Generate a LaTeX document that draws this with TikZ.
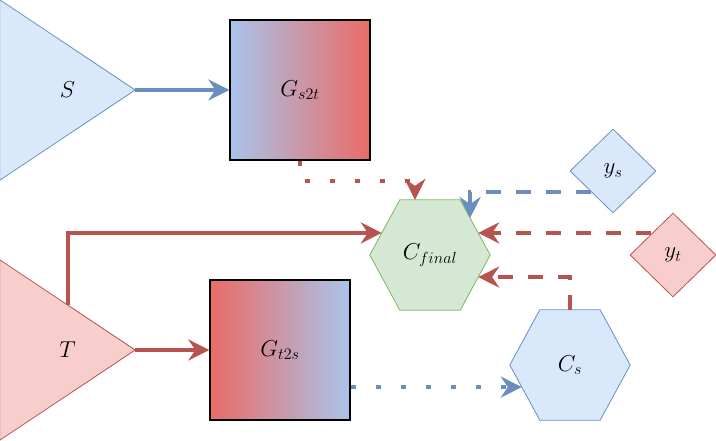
\documentclass[tikz,border=0pt]{standalone}
\usepackage{fix-cm}
\usepackage{tikz}
\usetikzlibrary{arrows.meta}
\usetikzlibrary{shapes}
\usetikzlibrary{calc}
\usetikzlibrary{backgrounds}
\definecolor{bluefill}{HTML}{DAE8FC}
\definecolor{blueline}{HTML}{6C8EBF}
\definecolor{redfill}{HTML}{F8CECC}
\definecolor{redline}{HTML}{B85450}
\definecolor{greenfill}{HTML}{D5E8D4}
\definecolor{greenline}{HTML}{82B366}
\definecolor{gradblue}{HTML}{A9C4EB}
\definecolor{gradred}{HTML}{EA6B66}
\tikzset{>={Stealth[length=21pt, width=21pt, inset=7pt]}}

\begin{document}
\begin{tikzpicture}[x=1pt, y=-1pt,
            every node/.style={font=\fontsize{23}{28}\selectfont},
            area/.style={inner sep=0pt},
            gen/.style={draw=black, line width=1.3pt, minimum width=140pt, minimum height=140pt, inner sep=0pt},
            target/.style={diamond, inner sep=0pt, minimum width=86pt, minimum height=84pt, line width=0.8pt},
            solid arrow/.style={->, line width=4pt},
            dashed arrow/.style={->, line width=4pt, dash pattern=on 15pt off 15pt},
            dotted arrow/.style={->, line width=4pt, dash pattern=on 5pt off 20pt}
        ]
            \useasboundingbox (0,0) rectangle (716,441);
            % domains
            \node[area, minimum width=135pt, minimum height=180pt] (S) at (67.5,90) {$S$};
            \node[area, minimum width=135pt, minimum height=180pt] (T) at (67.5,350) {$T$};
            % generators
            \node[gen, left color=gradblue, right color=gradred] (gs2t) at (300,90) {$G_{s2t}$};
            \node[gen, left color=gradred, right color=gradblue] (gt2s) at (280,350) {$G_{t2s}$};
            % classifiers
            \node[area, minimum width=120pt, minimum height=110pt] (cfinal) at (430,255) {$C_{final}$};
            \node[area, minimum width=120pt, minimum height=110pt] (cs) at (570,365) {$C_s$};
            % labels
            \node[target, fill=bluefill, draw=blueline] (ys) at (613,171) {$y_s$};
            \node[target, fill=redfill, draw=redline] (yt) at (673,255) {$y_t$};
            \begin{scope}[on background layer]
                \draw[draw=blueline, fill=bluefill, line width=0.8pt] (S.north west) -- (S.east) -- (S.south west) -- cycle;
                \draw[draw=redline, fill=redfill, line width=0.8pt] (T.north west) -- (T.east) -- (T.south west) -- cycle;
                \draw[draw=greenline, fill=greenfill, line width=0.8pt] (cfinal.west) -- ([xshift=30pt]cfinal.north west) -- ([xshift=-30pt]cfinal.north east)
                    -- (cfinal.east) -- ([xshift=-30pt]cfinal.south east) -- ([xshift=30pt]cfinal.south west) -- cycle;
                \draw[draw=blueline, fill=bluefill, line width=0.8pt] (cs.west) -- ([xshift=30pt]cs.north west) -- ([xshift=-30pt]cs.north east)
                    -- (cs.east) -- ([xshift=-30pt]cs.south east) -- ([xshift=30pt]cs.south west) -- cycle;
            \end{scope}
            % ends on the hexagon borders
            \coordinate (cfinal-w) at ($(cfinal.west)!0.4!([xshift=30pt]cfinal.north west)$);
            \coordinate (cfinal-ne) at ($(cfinal.east)!0.67!([xshift=-30pt]cfinal.north east)$);
            \coordinate (cfinal-e) at ($(cfinal.east)!0.4!([xshift=-30pt]cfinal.north east)$);
            \coordinate (cfinal-se) at ($(cfinal.east)!0.4!([xshift=-30pt]cfinal.south east)$);
            \coordinate (cs-sw) at ($(cs.west)!0.4!([xshift=30pt]cs.south west)$);
            \coordinate (t-top) at ($(T.north west)!0.5!(T.east)$);
            % paths
            \draw[blueline, solid arrow] (S.east) -- (gs2t.west);
            \draw[redline, solid arrow] (T.east) -- (gt2s.west);
            \draw[redline, solid arrow] (t-top) |- (cfinal-w);
            \draw[redline, dotted arrow] (gs2t.south) -- ++(0,20) -| ([xshift=-15pt]cfinal.north);
            \draw[blueline, dashed arrow] (ys.south west) -| (cfinal-ne);
            \draw[redline, dashed arrow] (cfinal-e -| yt.north west) -- (cfinal-e);
            \draw[redline, dashed arrow] (cs.north) |- (cfinal-se);
            \draw[blueline, dotted arrow] (cs-sw -| gt2s.east) -- (cs-sw);
        \end{tikzpicture}
\end{document}
